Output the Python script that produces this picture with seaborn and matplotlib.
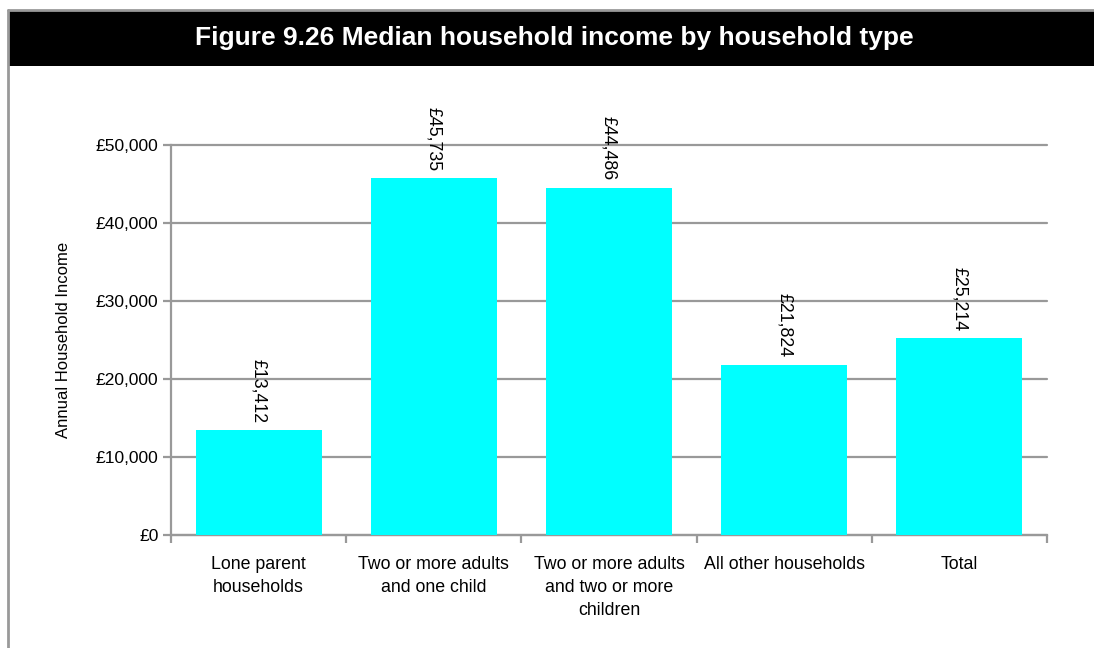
import matplotlib
matplotlib.use("Agg")
import matplotlib.pyplot as plt
import seaborn as sns
import pandas as pd
from matplotlib.patches import Rectangle
from matplotlib.lines import Line2D
from matplotlib.ticker import FuncFormatter, MultipleLocator

categories = ["Lone parent\nhouseholds", "Two or more adults\nand one child",
              "Two or more adults\nand two or more\nchildren", "All other households", "Total"]
values = [13412, 45735, 44486, 21824, 25214]
title = "Figure 9.26 Median household income by household type"
ylabel = "Annual Household Income"

sns.set_theme(style="white")
plt.rcParams['font.family'] = ['Liberation Sans', 'DejaVu Sans']

W, H = 1094, 648
fig = plt.figure(figsize=(W / 100, H / 100), dpi=100)
ax = fig.add_axes([171 / W, 1 - 535 / H, (1047 - 171) / W, (535 - 145) / H])

df = pd.DataFrame({"cat": categories, "val": values})
sns.barplot(data=df, x="cat", y="val", color="#00FFFF", saturation=1, width=0.72, ax=ax, zorder=3)
for p in ax.patches:
    p.set_edgecolor("none")

ax.set_ylim(0, 50000)
ax.set_xlim(-0.5, len(categories) - 0.5)
ax.yaxis.set_major_locator(MultipleLocator(10000))
ax.yaxis.set_major_formatter(FuncFormatter(lambda v, p: f"£{int(v):,}"))
ax.grid(axis="y", color="#999999", linewidth=1.6, zorder=0)
ax.set_axisbelow(True)
for gl in ax.get_ygridlines():
    gl.set_clip_on(False)
for s in ["top", "right"]:
    ax.spines[s].set_visible(False)
for s in ["left", "bottom"]:
    ax.spines[s].set_color("#999999")
    ax.spines[s].set_linewidth(1.6)

ax.tick_params(axis="y", which="major", left=True, length=6, width=1.6, color="#999999",
               labelsize=12.5, labelcolor="black", pad=3)
ax.set_xticks(range(len(categories)))
ax.set_xticklabels(categories, fontsize=12.8, color="black", linespacing=1.45, va="top")
ax.tick_params(axis="x", which="major", bottom=False, pad=9)
ax.set_xticks([i - 0.5 for i in range(len(categories) + 1)], minor=True)
ax.tick_params(axis="x", which="minor", bottom=True, length=6, width=1.6, color="#999999")
ax.set_xlabel("")
ax.set_ylabel(ylabel, fontsize=12, color="black", labelpad=18)

for i, v in enumerate(values):
    ax.annotate(f"£{v:,}", xy=(i, v), xytext=(0, 5.5), textcoords="offset points",
                rotation=270, ha="center", va="bottom", fontsize=12.8, color="black")

# title bar and frame
fig.patches.append(Rectangle((8 / W, 1 - 66 / H), 1 - 8 / W, (66 - 10) / H,
                             transform=fig.transFigure, facecolor="black", edgecolor="none", zorder=0))
fig.lines.append(Line2D([8 / W, 8 / W], [0, 1 - 10 / H], transform=fig.transFigure,
                        color="#999999", linewidth=2))
fig.lines.append(Line2D([8 / W, 1], [1 - 10 / H, 1 - 10 / H], transform=fig.transFigure,
                        color="#999999", linewidth=2))
fig.text(554 / W, 1 - 38 / H, title, ha="center", va="center", color="white",
         fontsize=19, fontweight="bold")

fig.savefig("out.png", dpi=100)
